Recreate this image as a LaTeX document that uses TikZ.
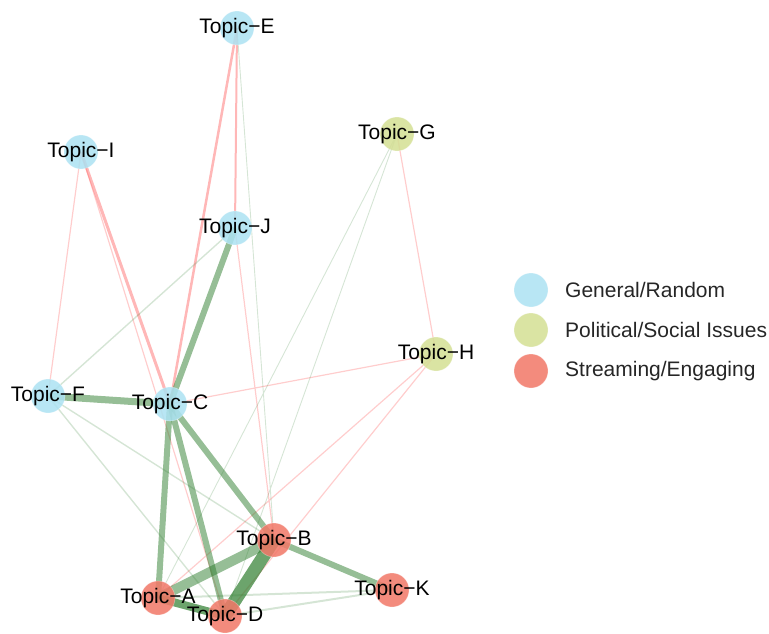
\documentclass[tikz,border=0pt]{standalone}
\usepackage{fontspec}
\setmainfont{Liberation Sans}
\pgfdeclarelayer{bg}
\pgfsetlayers{bg,main}
\usetikzlibrary{positioning}
\definecolor{general}{RGB}{172,226,242}
\definecolor{political}{RGB}{212,223,148}
\definecolor{streaming}{RGB}{241,120,104}
\definecolor{posedge}{RGB}{46,125,46}
\definecolor{negedge}{RGB}{255,90,90}
\begin{document}
\begin{tikzpicture}[x=1pt,y=-1pt]
\tikzstyle{topic}=[circle,minimum size=34pt,inner sep=0pt,outer sep=0pt,fill opacity=0.86,draw=white,draw opacity=0.35,line width=0.6pt]
\tikzstyle{lbl}=[font=\fontsize{21}{24}\selectfont,text=black,text opacity=1,inner sep=0pt]
\tikzstyle{legtext}=[font=\fontsize{21}{24}\selectfont,text=black!85,inner sep=0pt,anchor=west]
\tikzstyle{poslink}=[draw=posedge,draw opacity=0.5]
\tikzstyle{posstrong}=[draw=posedge,draw opacity=0.7]
\tikzstyle{posfaint}=[draw=posedge,draw opacity=0.2]
\tikzstyle{neglink}=[draw=negedge,draw opacity=0.44]
\tikzstyle{negfaint}=[draw=negedge,draw opacity=0.3]
\useasboundingbox (0,0) rectangle (769,634);
% topics
\node [topic,fill=general,label={[lbl]center:Topic−E}] (tE) at (237,28) {};
\node [topic,fill=political,label={[lbl]center:Topic−G}] (tG) at (397,134) {};
\node [topic,fill=general,label={[lbl]center:Topic−I}] (tI) at (81,152) {};
\node [topic,fill=general,label={[lbl]center:Topic−J}] (tJ) at (235,228) {};
\node [topic,fill=political,label={[lbl]center:Topic−H}] (tH) at (436,354) {};
\node [topic,fill=general,label={[lbl]center:Topic−F}] (tF) at (48,396) {};
\node [topic,fill=general,label={[lbl]center:Topic−C}] (tC) at (170,404) {};
\node [topic,fill=streaming,label={[lbl]center:Topic−B}] (tB) at (274,540) {};
\node [topic,fill=streaming,label={[lbl]center:Topic−K}] (tK) at (392,590) {};
\node [topic,fill=streaming,label={[lbl]center:Topic−A}] (tA) at (158,598) {};
\node [topic,fill=streaming,label={[lbl]center:Topic−D}] (tD) at (225,616) {};
\begin{pgfonlayer}{bg}
% negative links
\draw [neglink,line width=2.5pt] (tE.center) -- (tC.center);
\draw [neglink,line width=2pt] (tE.center) -- (tJ.center);
\draw [neglink,line width=3pt] (tI.center) -- (tC.center);
\draw [negfaint,line width=1.2pt] (tI.center) -- (tD.center)
  (tI.center) -- (tF.center)
  (tJ.center) -- (tB.center)
  (tG.center) -- (tH.center)
  (tH.center) -- (tC.center)
  (tH.center) -- (tA.center)
  (tH.center) -- (tD.center);
% positive links
\draw [posfaint,line width=0.9pt] (tE.center) -- (tB.center)
  (tG.center) -- (tA.center)
  (tG.center) -- (tD.center);
\draw [posfaint,line width=1.4pt] (tJ.center) -- (tF.center)
  (tF.center) -- (tB.center)
  (tF.center) -- (tD.center);
\draw [posfaint,line width=2pt] (tA.center) -- (tK.center)
  (tD.center) -- (tK.center);
\draw [poslink,line width=6pt] (tC.center) -- (tJ.center);
\draw [poslink,line width=7pt] (tC.center) -- (tF.center);
\draw [poslink,line width=6pt] (tC.center) -- (tA.center);
\draw [poslink,line width=6pt] (tC.center) -- (tD.center);
\draw [poslink,line width=6pt] (tC.center) -- (tB.center);
\draw [poslink,line width=6pt] (tB.center) -- (tK.center);
\draw [poslink,line width=10pt] (tA.center) -- (tB.center);
\draw [posstrong,line width=8pt] (tA.center) -- (tD.center);
\draw [posstrong,line width=13pt] (tB.center) -- (tD.center);
\end{pgfonlayer}
% legend
\node [topic,fill=general] (kGeneral) at (531,290) {};
\node [topic,fill=political] (kPolitical) at (531,330) {};
\node [topic,fill=streaming] (kStreaming) at (531,371) {};
\node [legtext,right=17pt of kGeneral] (lGeneral) {General/Random};
\node [legtext,right=17pt of kPolitical] (lPolitical) {Political/Social Issues};
\node [legtext,right=17pt of kStreaming] (lStreaming) {Streaming/Engaging};
\end{tikzpicture}
\end{document}
